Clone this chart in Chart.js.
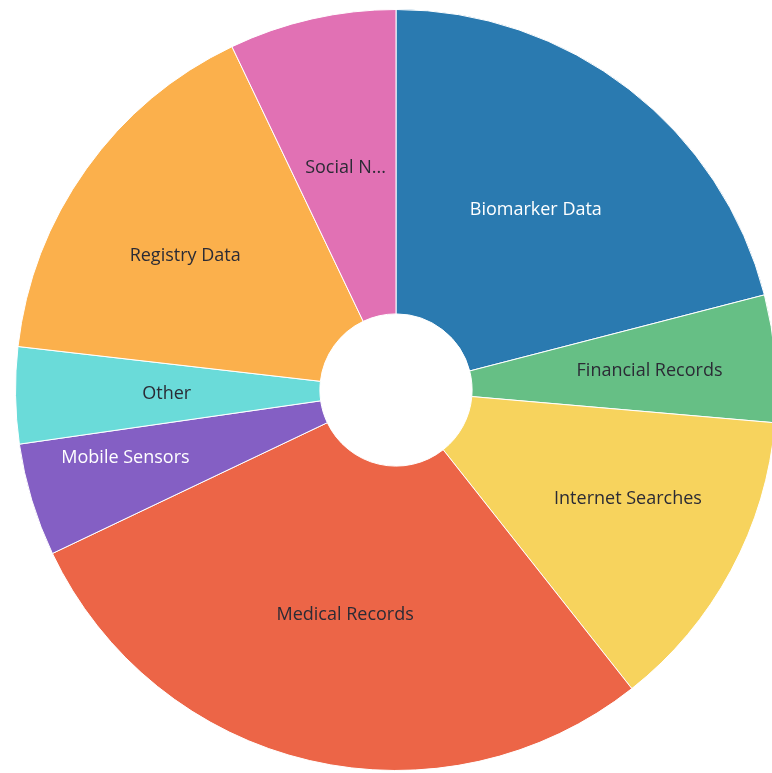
<!DOCTYPE html>
<html>
<head>
<meta charset="utf-8">
<script src="https://cdn.jsdelivr.net/npm/chart.js@4/dist/chart.umd.min.js"></script>
<style>
  html, body { margin: 0; padding: 0; background: #ffffff; overflow: hidden; width: 772px; height: 773px; }
  #wrap { position: absolute; left: 0; top: 0; width: 792px; height: 780px; }
</style>
</head>
<body>
<div id="wrap"><canvas id="c"></canvas></div>
<script>
const categories = ['Biomarker Data', 'Financial Records', 'Internet Searches', 'Medical Records',
                    'Mobile Sensors', 'Other', 'Registry Data', 'Social N...'];
const values = [21.0, 5.4, 13.0, 28.6, 4.8, 4.1, 16.1, 7.1];
const colors = ['#2a7ab0', '#66bf85', '#f7d35d', '#ec6547', '#845fc4', '#6adbd9', '#fbb04c', '#e171b4'];
const labelColors = ['#ffffff', '#2b2b35', '#2b2b35', '#2b2b35', '#ffffff', '#2b2b35', '#2b2b35', '#2b2b35'];
// horizontal/vertical nudge of each slice label (layout only)
const labelShiftX = [0, 26, 31, 1, -52, -1, -25, 0];
const labelShiftY = [0, 0, 1, 3, 2, 1, -2, 1];

const sliceLabels = {
  id: 'sliceLabels',
  afterDatasetsDraw(chart) {
    const ctx = chart.ctx;
    const meta = chart.getDatasetMeta(0);
    ctx.save();
    ctx.font = '18px "Open Sans", sans-serif';
    ctx.textAlign = 'center';
    ctx.textBaseline = 'middle';
    meta.data.forEach((arc, i) => {
      const p = arc.getCenterPoint();
      ctx.fillStyle = labelColors[i];
      ctx.fillText(chart.data.labels[i], p.x + labelShiftX[i], p.y + labelShiftY[i]);
    });
    ctx.restore();
  }
};

new Chart(document.getElementById('c'), {
  type: 'doughnut',
  data: {
    labels: categories,
    datasets: [{
      data: values,
      backgroundColor: colors,
      borderColor: '#ffffff',
      borderWidth: 1
    }]
  },
  options: {
    responsive: true,
    maintainAspectRatio: false,
    animation: false,
    cutout: '20%',
    layout: { padding: { left: 15, right: 15, top: 9, bottom: 9 } },
    plugins: { legend: { display: false }, tooltip: { enabled: false } }
  },
  plugins: [sliceLabels]
});
</script>
</body>
</html>
